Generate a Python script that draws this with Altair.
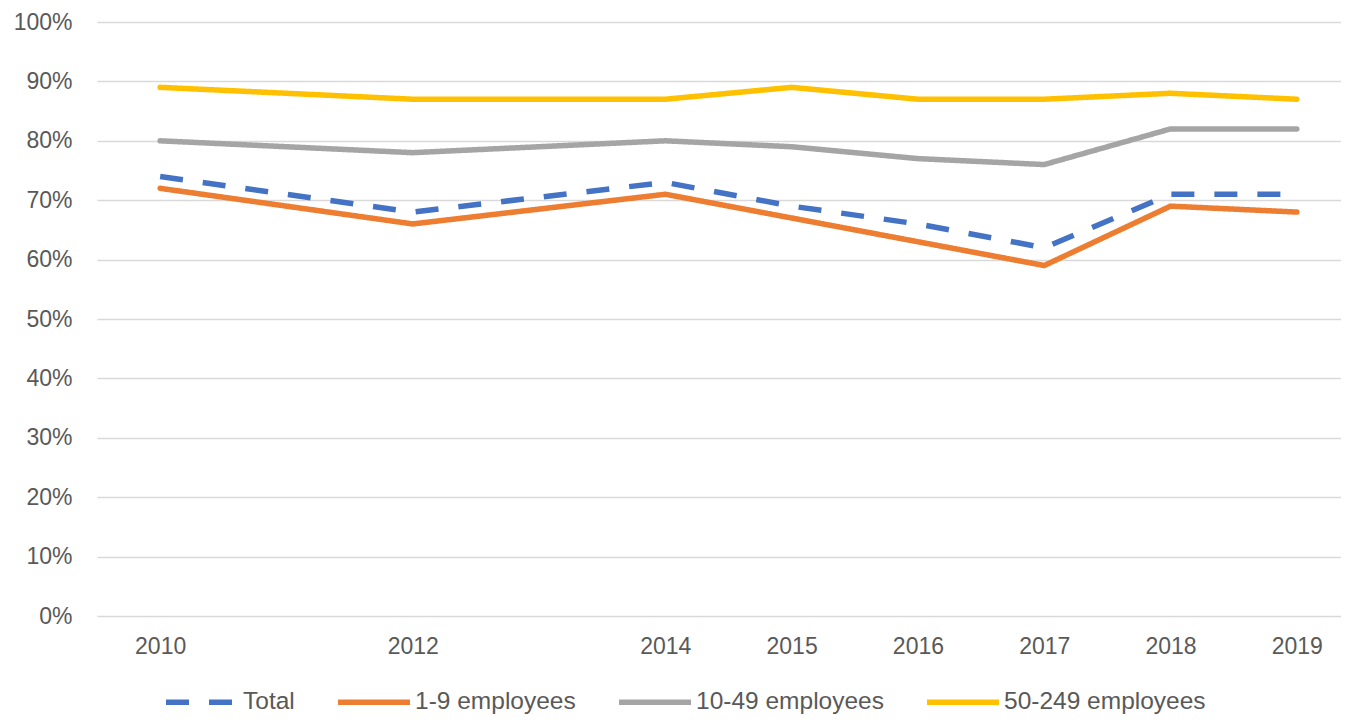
import altair as alt
import pandas as pd

years = [2010, 2012, 2014, 2015, 2016, 2017, 2018, 2019]
total = [74, 68, 73, 69, 66, 62, 71, 71]
emp_1_9 = [72, 66, 71, 67, 63, 59, 69, 68]
emp_10_49 = [80, 78, 80, 79, 77, 76, 82, 82]
emp_50_249 = [89, 87, 87, 89, 87, 87, 88, 87]
series_names = ["Total", "1-9 employees", "10-49 employees", "50-249 employees"]
series_colors = ["#4472C4", "#ED7D31", "#A5A5A5", "#FFC000"]
series_dash = [[23, 20], [1, 0], [1, 0], [1, 0]]
y_ticks = [i / 10 for i in range(11)]

rows = []
for name, vals in zip(series_names, [total, emp_1_9, emp_10_49, emp_50_249]):
    for yr, v in zip(years, vals):
        rows.append({"year": yr, "value": v / 100, "series": name})
df = pd.DataFrame(rows)

FONT = "Liberation Sans"
GREY = "#595959"

legend = alt.Legend(
    title=None, orient="none", legendX=66, legendY=641,
    direction="horizontal", columns=4, symbolType="stroke",
    symbolSize=5184, symbolStrokeWidth=5.5, labelFontSize=24.5,
    labelFont=FONT, labelColor=GREY, labelOffset=2, columnPadding=32,
    labelLimit=400,
)

x_enc = alt.X(
    "year:Q",
    scale=alt.Scale(domain=[2009.5, 2019.35], nice=False, zero=False),
    axis=alt.Axis(values=years, format="d", title=None, grid=False, domain=False,
                  ticks=False, labelPadding=19, labelFontSize=23, labelFont=FONT,
                  labelColor=GREY, labelFlush=False),
)
y_enc = alt.Y(
    "value:Q",
    scale=alt.Scale(domain=[0, 1], nice=False),
    axis=alt.Axis(values=y_ticks, format=".0%", title=None, domain=False, ticks=False,
                  gridColor="#D9D9D9", gridWidth=1.5, labelPadding=25, labelFontSize=23,
                  labelFont=FONT, labelColor=GREY),
)
color_enc = alt.Color("series:N", scale=alt.Scale(domain=series_names, range=series_colors),
                      legend=legend)
dash_enc = alt.StrokeDash("series:N", scale=alt.Scale(domain=series_names, range=series_dash),
                          legend=legend)

base = alt.Chart(df).encode(x=x_enc, y=y_enc, color=color_enc, strokeDash=dash_enc)

total_layer = base.transform_filter(alt.datum.series == "Total").mark_line(
    strokeWidth=5.5, strokeCap="butt", strokeJoin="round")
other_layer = base.transform_filter(alt.datum.series != "Total").mark_line(
    strokeWidth=5.5, strokeCap="round", strokeJoin="round")

chart = alt.layer(total_layer, other_layer).properties(
    width=1244, height=594,
    background="white",
    autosize=alt.AutoSizeParams(type="none"),
    padding={"left": 89, "top": 14, "right": 0, "bottom": 100},
).configure_view(stroke="transparent", strokeWidth=0)

chart.save("out.html", embed_options={"renderer": "svg", "actions": False})
